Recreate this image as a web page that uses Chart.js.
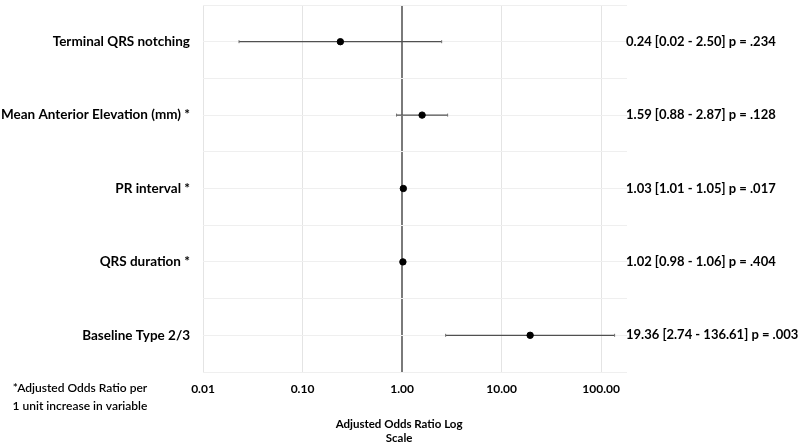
<!DOCTYPE html>
<html>
<head>
<meta charset="utf-8">
<script src="https://cdn.jsdelivr.net/npm/chart.js@4.4.1/dist/chart.umd.min.js"></script>
<style>
  html, body { margin: 0; padding: 0; background: #ffffff; }
  #wrap { width: 800px; height: 443px; position: relative; }
</style>
</head>
<body>
<div id="wrap"><canvas id="c" width="800" height="443"></canvas></div>
<script>
// ---- data ----
const categories = ["Terminal QRS notching", "Mean Anterior Elevation (mm) *", "PR interval *", "QRS duration *", "Baseline Type 2/3"];
const rowPos = [9, 7, 5, 3, 1];
const oddsRatio = [0.24, 1.59, 1.03, 1.02, 19.36];
const ciLow = [0.023, 0.88, 1.01, 0.98, 2.74];
const ciHigh = [2.50, 2.87, 1.05, 1.06, 136.61];
const pValues = [".234", ".128", ".017", ".404", ".003"];
const xTicks = [0.01, 0.1, 1, 10, 100];
const xTitle = ["Adjusted Odds Ratio Log", "Scale"];
const footnote = ["*Adjusted Odds Ratio per", "1 unit increase in variable"];

const FONT = "Lato, 'Open Sans', sans-serif";

// build CI line data with gaps
const ciData = [];
categories.forEach((c, i) => {
  ciData.push({ x: ciLow[i], y: rowPos[i] });
  ciData.push({ x: ciHigh[i], y: rowPos[i] });
  ciData.push({ x: null, y: null });
});
const pointData = categories.map((c, i) => ({ x: oddsRatio[i], y: rowPos[i] }));

const textPlugin = {
  id: 'textPlugin',
  afterDraw(chart) {
    const ctx = chart.ctx;
    const ys = chart.scales.y;
    const xs = chart.scales.x;
    const area = chart.chartArea;
    ctx.save();
    ctx.fillStyle = '#000000';
    ctx.textBaseline = 'middle';
    // category labels
    ctx.font = "bold 13.5px " + FONT;
    ctx.textAlign = 'right';
    categories.forEach((c, i) => {
      ctx.fillText(c, area.left - 13, ys.getPixelForValue(rowPos[i]));
    });
    // estimates
    ctx.font = "bold 13px " + FONT;
    ctx.textAlign = 'left';
    categories.forEach((c, i) => {
      const t = oddsRatio[i].toFixed(2) + " [" + ciLow[i].toFixed(2) + " - " + ciHigh[i].toFixed(2) + "] p = " + pValues[i];
      ctx.fillText(t, area.right - 1, ys.getPixelForValue(rowPos[i]));
    });
    // axis title
    ctx.textAlign = 'center';
    const cx = xs.getPixelForValue(1) - 3;
    ctx.font = "bold 11.5px " + FONT;
    ctx.fillText(xTitle[0], cx, area.bottom + 52);
    ctx.fillText(xTitle[1], cx, area.bottom + 66);
    // footnote
    ctx.font = "600 12px " + FONT;
    ctx.fillText(footnote[0], 80, area.bottom + 16);
    ctx.fillText(footnote[1], 80, area.bottom + 34);
    ctx.restore();
  }
};

new Chart(document.getElementById('c'), {
  type: 'scatter',
  data: {
    datasets: [
      {
        type: 'line',
        data: ciData,
        borderColor: '#505050',
        borderWidth: 1.3,
        spanGaps: false,
        pointStyle: 'line',
        rotation: 90,
        pointRadius: 1.5,
        pointBorderColor: '#707070',
        pointBorderWidth: 1,
        pointHoverRadius: 0,
        order: 2
      },
      {
        data: pointData,
        backgroundColor: '#000000',
        borderColor: '#000000',
        pointRadius: 3.2,
        order: 1
      }
    ]
  },
  options: {
    responsive: false,
    animation: false,
    events: [],
    layout: { padding: { left: 0, right: 173, top: 1, bottom: 0 } },
    plugins: { legend: { display: false }, tooltip: { enabled: false } },
    scales: {
      x: {
        type: 'logarithmic',
        min: 0.01,
        max: 182,
        afterBuildTicks(scale) { scale.ticks = xTicks.map(v => ({ value: v })); },
        afterFit(scale) { scale.height = 71; },
        border: { display: false },
        grid: {
          drawTicks: false,
          color: (c) => (c.tick && c.tick.value === 1) ? '#7a7a7a' : '#e4e4e4',
          lineWidth: (c) => (c.tick && c.tick.value === 1) ? 2 : 1
        },
        ticks: {
          autoSkip: false,
          maxRotation: 0,
          padding: 10,
          color: '#000000',
          font: { family: FONT, size: 12, weight: 'bold' },
          callback: (v) => Number(v).toFixed(2)
        }
      },
      y: {
        type: 'linear',
        min: 0,
        max: 10,
        afterFit(scale) { scale.width = 203; },
        border: { display: false },
        grid: { drawTicks: false, color: '#efefef', lineWidth: 1 },
        ticks: { display: false, stepSize: 1 }
      }
    }
  },
  plugins: [textPlugin]
});
</script>
</body>
</html>
